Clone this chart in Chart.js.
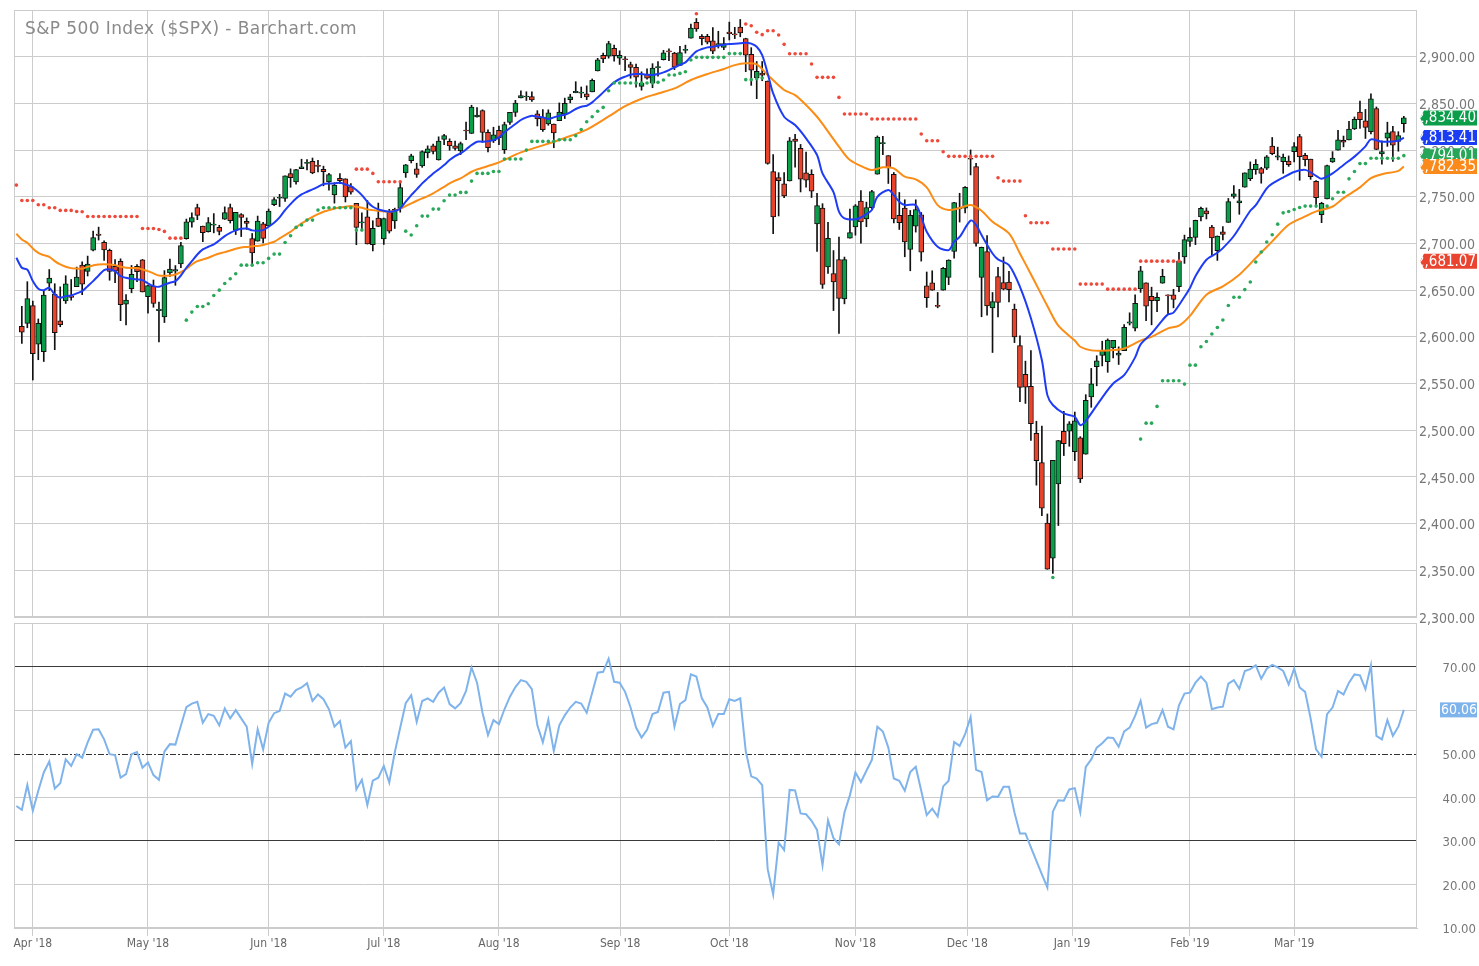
<!DOCTYPE html>
<html>
<head>
<meta charset="utf-8">
<script src="https://cdn.jsdelivr.net/npm/chart.js@4.4.1/dist/chart.umd.min.js"></script>
<style>
  html, body { margin: 0; padding: 0; background: #fff; }
  #wrap { position: relative; width: 1479px; height: 966px; overflow: hidden; }
  #price { position: absolute; left: 0; top: 0; }
  #rsi { position: absolute; left: 0; top: 620px; }
</style>
</head>
<body>
<div id="wrap">
  <canvas id="price" width="1479" height="632"></canvas>
  <canvas id="rsi" width="1479" height="346"></canvas>
</div>
<script>
// Data: S&P 500 daily bars, bar 0 = 27 Mar 2018 ... bar 253 = 29 Mar 2019

const monthTickBars = [3, 24, 46, 67, 88, 110.1, 130, 153, 173.4, 192.5, 214, 233];
const monthLabels = ["Apr '18", "May '18", "Jun '18", "Jul '18", "Aug '18", "Sep '18",
                     "Oct '18", "Nov '18", "Dec '18", "Jan '19", "Feb '19", "Mar '19"];

const opens = [null, 2611.30, 2614.41,
  2633.45,2592.17,2584.04,2657.36,2645.82,2617.18,2638.41,2643.83,2653.83,2676.90,2670.10,2692.74,2710.11,2701.16,2692.56,2675.40,2680.80,2634.92,2651.65,2675.47,2682.51,
  2642.96,2654.24,2628.08,2621.45,2668.50,2670.26,2678.12,2705.02,2722.70,2738.47,2718.59,2712.62,2719.71,2717.35,2726.00,2738.34,2713.98,2730.94,2723.60,2705.11,2702.43,2720.98,
  2718.70,2741.67,2748.46,2748.26,2774.84,2765.84,2780.18,2785.60,2787.94,2783.21,2779.30,2765.79,2752.01,2769.73,2769.28,2760.79,2742.94,2722.12,2728.45,2698.69,2727.13,
  2704.95,2733.27,2724.19,2737.68,2775.62,2788.56,2779.82,2783.14,2796.93,2804.55,2789.34,2811.35,2809.37,2804.55,2799.17,2820.68,2817.73,2835.49,2842.35,2819.00,2809.73,
  2821.17,2800.48,2829.62,2840.29,2855.92,2856.79,2857.19,2838.90,2835.46,2827.88,2827.95,2831.44,2838.32,2853.93,2861.51,2860.99,2860.29,2862.35,2884.69,2901.45,2900.62,2908.94,2898.37,
  2896.96,2891.59,2888.64,2868.26,2881.39,2871.57,2888.29,2896.85,2906.38,2903.83,2890.74,2906.60,2919.73,2936.76,2921.83,2921.75,2916.98,2911.65,2910.03,
  2926.29,2923.80,2931.69,2919.35,2902.54,2877.53,2882.51,2873.90,2776.87,2770.54,2763.83,2767.05,2811.67,2802.00,2775.66,2773.94,2721.03,2737.87,2674.88,2667.86,2682.65,2640.68,2705.60,
  2717.58,2745.45,2726.37,2738.40,2774.13,2806.83,2794.10,2773.93,2730.05,2737.90,2693.52,2718.54,2730.74,2654.60,2657.74,2633.36,2649.97,2663.75,2691.45,2736.97,2737.76,
  2790.50,2782.43,2663.51,2691.26,2630.86,2664.44,2658.23,2658.70,2629.68,2590.75,2559.90,2547.05,2496.77,2465.38,2400.56,2363.12,2442.50,2498.77,2498.94,
  2476.96,2491.92,2474.33,2535.61,2568.11,2580.00,2573.51,2588.11,2580.31,2585.10,2614.75,2609.28,2651.27,2657.88,2643.48,2638.84,2657.44,2644.97,2644.89,2653.62,2685.49,
  2702.32,2706.49,2728.34,2735.05,2717.53,2692.36,2712.40,2722.61,2750.30,2743.50,2760.24,2769.28,2779.05,2780.24,2780.67,2804.35,2792.36,2787.50,2788.11,
  2798.22,2814.37,2794.41,2790.27,2766.53,2730.79,2747.61,2787.34,2799.78,2810.38,2810.79,2822.61,2840.76,2831.34,2819.72,2844.52,2796.01,2812.66,2819.72,2809.40,2828.27];

const highs = [null, 2632.65, 2659.07,
  2638.30,2619.14,2649.86,2672.08,2656.88,2653.55,2665.45,2661.43,2674.72,2680.26,2686.49,2713.34,2717.49,2702.84,2693.94,2682.86,2683.55,2645.30,2676.48,2677.35,2682.87,
  2655.27,2660.87,2637.14,2670.93,2683.35,2676.34,2701.27,2726.11,2732.86,2742.10,2718.59,2727.76,2731.96,2719.50,2739.19,2742.24,2733.33,2731.97,2727.36,2710.67,2729.34,2722.50,
  2736.93,2749.16,2752.61,2772.39,2779.90,2779.39,2790.21,2789.80,2791.47,2789.06,2782.81,2774.99,2765.05,2774.86,2769.28,2764.17,2742.94,2732.91,2746.09,2724.34,2743.26,
  2727.26,2736.58,2737.83,2764.41,2784.65,2795.58,2785.91,2799.22,2804.53,2806.53,2814.19,2816.76,2812.05,2809.70,2808.61,2829.99,2848.03,2845.57,2843.17,2821.74,2824.46,
  2825.83,2829.91,2840.38,2853.29,2863.43,2862.44,2862.48,2842.20,2843.40,2843.11,2827.95,2850.49,2855.63,2859.76,2873.23,2867.54,2868.78,2876.16,2898.25,2903.77,2916.50,2912.46,2906.32,
  2900.18,2894.21,2892.05,2883.81,2886.93,2892.52,2894.65,2906.76,2908.30,2904.65,2911.17,2912.36,2934.80,2940.91,2923.79,2923.95,2931.15,2927.22,2920.53,
  2937.06,2931.42,2939.86,2919.78,2909.64,2894.83,2894.83,2874.02,2795.14,2775.77,2775.99,2813.46,2816.94,2806.04,2797.77,2778.94,2753.59,2742.59,2722.70,2692.38,2706.85,2685.43,2736.69,
  2741.67,2756.55,2744.27,2756.82,2815.15,2814.75,2794.10,2775.99,2754.60,2746.80,2735.38,2746.75,2733.16,2669.44,2670.73,2647.55,2674.35,2682.53,2744.00,2753.75,2760.88,
  2800.18,2785.93,2696.15,2708.54,2647.51,2674.35,2685.44,2670.19,2635.07,2601.13,2573.99,2585.29,2509.63,2504.41,2410.34,2467.76,2489.10,2520.27,2509.24,
  2519.49,2493.14,2538.07,2566.16,2579.82,2595.32,2597.82,2596.27,2589.32,2613.08,2625.76,2645.06,2675.47,2657.88,2653.19,2647.20,2672.38,2644.97,2650.93,2690.44,2708.95,
  2716.66,2724.99,2738.98,2738.08,2719.32,2708.07,2718.05,2748.19,2761.85,2757.90,2775.66,2787.33,2789.88,2781.58,2794.20,2813.49,2803.12,2795.76,2793.73,
  2808.02,2816.88,2796.44,2790.27,2767.25,2744.13,2784.00,2798.32,2821.24,2815.00,2830.73,2835.41,2852.42,2843.54,2860.31,2846.16,2809.79,2829.87,2825.56,2819.71,2836.03];

const lows = [null, 2593.06, 2609.72,
  2553.80,2575.49,2573.61,2649.58,2586.27,2610.79,2635.78,2639.25,2653.83,2645.05,2665.16,2692.05,2703.63,2681.90,2660.61,2657.99,2617.32,2612.67,2647.16,2659.01,2648.04,
  2625.41,2631.70,2594.62,2615.32,2664.70,2655.20,2674.14,2704.54,2717.45,2725.47,2701.91,2712.17,2711.36,2709.18,2725.70,2721.88,2709.54,2707.38,2714.99,2676.81,2702.43,2700.68,
  2718.70,2740.54,2739.51,2745.00,2760.16,2763.59,2780.17,2778.78,2774.65,2776.52,2761.73,2757.12,2743.19,2763.91,2744.39,2752.68,2698.67,2715.60,2699.38,2691.99,2718.03,
  2698.95,2711.16,2716.02,2733.52,2770.73,2786.24,2770.77,2781.53,2791.69,2795.84,2789.24,2805.89,2799.77,2800.01,2795.14,2811.12,2817.73,2835.26,2808.34,2798.11,2808.06,
  2805.85,2796.34,2827.37,2835.98,2855.92,2853.09,2851.98,2825.81,2819.88,2826.58,2802.49,2831.44,2833.73,2850.62,2861.32,2856.05,2854.03,2862.35,2884.69,2893.50,2898.40,2895.22,2891.73,
  2885.13,2876.92,2867.29,2864.12,2875.94,2866.78,2879.20,2896.39,2895.77,2886.16,2890.43,2903.82,2919.73,2927.11,2912.63,2913.70,2903.28,2909.27,2907.50,
  2917.91,2919.37,2921.36,2883.92,2869.29,2855.04,2874.27,2784.86,2710.51,2729.44,2749.03,2766.91,2781.81,2755.18,2760.27,2749.22,2691.43,2651.89,2667.84,2628.16,2603.54,2635.34,2705.60,
  2708.85,2700.44,2717.94,2737.08,2774.13,2794.99,2764.24,2722.00,2714.98,2685.75,2670.75,2712.16,2681.09,2631.52,2649.82,2631.09,2649.97,2655.89,2684.38,2722.94,2732.76,
  2773.38,2697.18,2621.53,2623.14,2583.23,2621.30,2650.26,2637.27,2593.84,2530.54,2528.71,2488.96,2441.18,2408.55,2351.10,2346.58,2397.94,2472.89,2482.82,
  2467.47,2443.96,2474.33,2524.56,2547.56,2568.89,2562.02,2577.40,2570.41,2585.10,2612.68,2606.36,2647.58,2617.27,2612.86,2627.01,2657.33,2624.06,2631.05,2648.34,2678.65,
  2696.88,2698.75,2724.03,2726.27,2687.26,2681.83,2703.79,2722.61,2748.63,2731.23,2760.24,2767.29,2774.06,2764.55,2779.11,2794.99,2789.47,2775.13,2782.51,
  2787.38,2767.66,2782.97,2768.69,2739.09,2722.27,2747.61,2786.73,2799.78,2803.46,2810.79,2821.99,2823.27,2812.43,2817.38,2800.47,2785.02,2803.99,2787.72,2798.77,2819.23];

const closes = [null, 2605.00, 2640.87,
  2581.88,2614.45,2644.69,2662.84,2604.47,2613.16,2656.87,2642.19,2663.99,2656.30,2677.84,2706.39,2708.64,2693.13,2670.14,2670.29,2634.56,2639.40,2666.94,2669.91,2648.05,
  2654.80,2635.67,2629.73,2663.42,2672.63,2671.92,2697.79,2723.07,2727.72,2730.13,2711.45,2722.46,2720.13,2712.97,2733.01,2724.44,2733.29,2727.76,2721.33,2689.86,2724.01,2705.27,
  2734.62,2746.87,2748.80,2772.35,2770.37,2779.03,2782.00,2786.85,2775.63,2782.49,2776.80,2773.75,2762.59,2767.32,2749.76,2754.88,2717.07,2723.06,2699.63,2716.31,2718.37,
  2726.71,2713.22,2736.61,2759.82,2784.17,2793.84,2774.02,2798.29,2801.31,2798.43,2809.55,2815.62,2804.49,2801.83,2806.98,2820.40,2846.07,2837.44,2818.82,2802.60,2816.29,
  2813.36,2827.22,2840.35,2850.40,2858.45,2857.70,2853.58,2833.28,2821.93,2839.96,2818.37,2840.69,2850.13,2857.05,2862.96,2861.82,2856.98,2874.69,2896.74,2897.52,2914.04,2901.13,2901.52,
  2896.72,2888.60,2878.05,2871.68,2877.13,2887.89,2888.92,2904.18,2904.98,2888.80,2904.31,2907.95,2930.75,2929.67,2919.37,2915.56,2905.97,2914.00,2913.98,
  2924.59,2923.43,2925.51,2901.61,2885.57,2884.43,2880.34,2785.68,2728.37,2767.13,2750.79,2809.92,2809.21,2768.78,2767.78,2755.88,2740.69,2656.10,2705.57,2658.69,2641.25,2682.63,2711.74,
  2740.37,2723.06,2738.31,2755.45,2813.89,2806.83,2781.01,2726.22,2722.18,2701.58,2730.20,2736.27,2690.73,2641.89,2649.93,2632.56,2673.45,2682.17,2743.79,2737.80,2760.17,
  2790.37,2700.06,2695.95,2633.08,2637.72,2636.78,2651.07,2650.54,2599.95,2545.94,2546.16,2506.96,2467.42,2416.62,2351.10,2467.70,2488.83,2485.74,2506.85,
  2510.03,2447.89,2531.94,2549.69,2574.41,2584.96,2596.64,2596.26,2582.61,2610.30,2616.10,2635.96,2670.71,2632.90,2638.70,2642.33,2664.76,2643.85,2640.00,2681.05,2704.10,
  2706.53,2724.87,2737.70,2731.61,2706.05,2707.88,2709.80,2744.73,2753.03,2745.73,2775.60,2779.76,2784.70,2774.88,2792.67,2796.11,2793.90,2792.38,2784.49,
  2803.69,2792.81,2789.65,2771.45,2748.93,2743.07,2783.30,2791.52,2810.92,2808.48,2822.48,2832.94,2832.57,2824.23,2854.88,2800.71,2798.36,2818.46,2805.37,2815.44,2834.40];

// fast moving average (blue), [bar, value]
const maFast = [[0,2684.7],[1,2674],[2,2672],[3,2659.7],[4,2651.5],[5,2650],[6,2652.5],[7,2645.4],[8,2641.8],[9,2643.6],[10,2644.3],[11,2646.5],[12,2649],[13,2654.3],[14,2659.7],[15,2665.7],[16,2671.5],[17,2672.2],[18,2670.4],[19,2665],[20,2663.2],[21,2662.2],[22,2661.5],[23,2660.8],[24,2657.2],[25,2654.3],[26,2653.6],[27,2656],[28,2658],[29,2659.7],[30,2665.7],[31,2674],[32,2681],[33,2688.2],[34,2693.6],[35,2696.5],[36,2699],[37,2703.2],[38,2707.9],[39,2711.4],[40,2714],[41,2715.7],[42,2716],[43,2714],[44,2713.6],[45,2714.3],[46,2717.9],[47,2722.2],[48,2727.9],[49,2735.7],[50,2742.2],[51,2748.2],[52,2752.5],[53,2755.4],[54,2757.9],[55,2760.7],[56,2763.6],[57,2764.3],[58,2764.3],[59,2765],[60,2763.2],[61,2761.4],[62,2757.2],[63,2751.8],[64,2744.7],[65,2739.3],[66,2736.5],[67,2735],[68,2734],[69,2734.7],[70,2737.5],[71,2744.7],[72,2751.8],[73,2757.9],[74,2764.3],[75,2769.7],[76,2775],[77,2779.3],[78,2783.9],[79,2789.3],[80,2793.6],[81,2796.4],[82,2800.7],[83,2805.4],[84,2808.9],[85,2809],[86,2809.5],[87,2810.7],[88,2813.6],[89,2819],[90,2823.6],[91,2827.9],[92,2832.2],[93,2835],[94,2836.8],[95,2835.7],[96,2835],[97,2833.2],[98,2835],[99,2836.8],[100,2837.9],[101,2840.4],[102,2844],[103,2846.4],[104,2847.5],[105,2851.1],[106,2856.4],[107,2861.8],[108,2867.2],[109,2872.5],[110,2876.1],[111,2878.6],[112,2880.7],[113,2881.4],[114,2881.4],[115,2880.7],[116,2880.4],[117,2881.4],[118,2883.2],[119,2885.7],[120,2888.6],[121,2891.4],[122,2893.9],[123,2900],[124,2905.7],[125,2908.2],[126,2910],[127,2910.7],[128,2911.8],[129,2912.9],[130,2913.6],[132,2914.3],[133,2915],[134,2914],[135,2910.7],[136,2901.8],[137,2882.1],[138,2860.7],[140,2835.7],[142,2826.8],[144,2812.5],[146,2794.7],[147,2775],[149,2755],[150,2734],[151,2726.9],[153,2725.8],[154,2727.9],[155,2731.5],[156,2735.8],[157,2750],[159,2757.2],[160,2751.8],[161,2744.7],[162,2741.1],[164,2741.1],[165,2728.6],[166,2712.6],[168,2696.5],[170,2692.9],[171,2701.9],[172,2707],[174,2724.5],[175,2720],[176,2709],[178,2689.3],[179,2683],[181,2676.8],[183,2653.6],[185,2620],[187,2575],[188,2537.6],[189,2527],[191,2518],[193,2514.4],[194,2505.5],[195,2510],[198,2535],[200,2550],[202,2559],[204,2578],[205,2592],[207,2603.7],[209,2618],[210,2624],[211,2626],[213,2643],[214,2652.4],[215,2665],[217,2682.6],[219,2690],[220,2695],[222,2708],[225,2735],[226,2741],[228,2759],[229,2764],[231,2770.6],[233,2776.5],[235,2778.8],[237,2772.5],[238,2769.2],[240,2775],[242,2784.1],[244,2793],[246,2804],[247,2811.5],[249,2809],[252,2810],[253,2813.41]];

// slow moving average (orange)
const maSlow = [[0,2710.4],[1,2704.3],[2,2700.7],[3,2694.7],[4,2690],[5,2687.5],[6,2685.7],[7,2681.1],[8,2677.5],[9,2675],[10,2673.6],[11,2673.2],[12,2672.9],[13,2675],[14,2676.5],[15,2677.5],[17,2677.5],[18,2676.8],[19,2675],[20,2674],[22,2673.6],[23,2672.2],[24,2670.4],[25,2667.9],[26,2665.7],[28,2665.7],[29,2666.8],[30,2669.3],[31,2672.9],[32,2677.5],[33,2681.1],[34,2682.9],[35,2684.7],[36,2687.2],[37,2689.3],[38,2690.7],[39,2692.5],[40,2694.3],[41,2695.7],[42,2696.3],[43,2697],[44,2697.4],[45,2698.3],[46,2700],[47,2701.8],[48,2705.4],[49,2709],[50,2712.5],[51,2717.2],[52,2721.5],[53,2725],[54,2728.6],[55,2731.5],[56,2734],[57,2735.7],[58,2737.5],[59,2738.6],[60,2739.3],[61,2740],[62,2739.3],[63,2738.2],[64,2736.5],[65,2735.7],[66,2735],[67,2734.3],[68,2734],[69,2735],[70,2737.5],[71,2740],[72,2742.9],[73,2745.7],[74,2748.2],[75,2750.7],[76,2753.6],[77,2757.2],[78,2760.7],[79,2764.3],[80,2767.2],[81,2769.7],[82,2773.2],[83,2776.8],[84,2779.3],[85,2781],[86,2782.9],[88,2786.8],[92,2797.5],[96,2805],[100,2813],[104,2822],[108,2836],[111,2847],[114,2855],[117,2860.5],[120,2866],[123,2875],[126,2881.4],[129,2886.8],[131,2891],[133,2892.9],[135,2891.8],[137,2880.4],[140,2864.3],[142,2858.9],[144,2848.2],[146,2835.7],[147,2828],[150,2803.6],[152,2789.3],[155,2780.4],[156,2778.6],[158,2781.5],[160,2780.4],[162,2771.5],[164,2768.6],[166,2760],[168,2741.1],[170,2735.8],[172,2738],[174,2741.1],[176,2735],[178,2723.2],[181,2710.7],[183,2689.3],[185,2667],[188,2633],[190,2612],[193,2596],[194,2589.4],[196,2585.5],[198,2585.1],[200,2585.8],[202,2587.5],[205,2596],[207,2600],[210,2609],[212,2612],[214,2622.5],[217,2645.2],[220,2654.1],[223,2666.6],[226,2684.4],[229,2702.2],[232,2720],[235,2728.9],[237,2734.3],[240,2739.6],[242,2748.5],[245,2760],[247,2769.9],[249,2774.2],[252,2777.7],[253,2782.35]];

// parabolic SAR dots, [bar, value]
const sarUp = [[31,2617.9],[32,2626.5],[33,2632.5],[34,2632.5],[35,2635.4],[36,2644.3],[37,2650],[38,2657.2],[39,2662.2],[40,2667.5],[41,2676.8],[42,2676.8],[43,2676.8],[44,2679.3],[45,2679.3],[46,2684],[47,2688.6],[48,2688.6],[49,2701.1],[50,2708.3],[51,2717.2],[52,2719.7],[53,2725],[54,2725],[55,2735.7],[56,2738.2],[57,2738.2],[58,2738.2],[59,2738.2],[60,2738.2],[61,2738.2],[62,2714.3],[63,2714.3],
  [71,2713.2],[72,2709],[73,2719],[74,2729.3],[75,2729.3],[76,2736.8],[77,2736.8],[78,2745.7],[79,2751.8],[80,2751.8],[81,2754.7],[82,2754.7],[83,2766.8],[84,2775],[85,2775],[86,2775],[87,2777],[88,2777],[89,2790.4],[90,2790.4],[91,2790.4],[92,2790.4],[93,2800],[94,2809.3],[95,2809.3],[96,2809.3],[97,2809.3],[98,2809.3],[99,2811],[100,2811],[101,2811],[102,2815.4],[103,2822],[104,2830.4],[105,2835.7],[106,2841.5],[107,2845.7],[108,2863.6],[109,2871.8],[110,2871.8],[111,2871.8],[112,2871.8],[113,2871.8],[114,2871.8],[115,2871.8],[116,2871.8],[117,2872.5],[118,2875],[119,2880.4],[120,2880.4],[121,2882.1],[122,2883.9],[123,2896.4],[124,2899.3],[125,2899.3],[126,2899.3],[127,2899.3],[128,2899.3],[129,2899.3],[130,2903.3],[131,2903.3],[132,2903.3],[133,2875.4],[134,2875.4],[135,2876.4],[136,2877.2],
  [189,2342.3],
  [205,2490.5],[206,2507.6],[207,2507.6],[208,2525.5],[209,2553],[210,2553],[211,2553],[212,2553],[213,2549.4],[214,2569.7],[215,2569.7],[216,2589.4],[217,2595],[218,2603],[219,2610],[220,2618],[221,2633.5],[222,2642.4],[223,2642.4],[224,2650.6],[225,2658.8],[226,2680.1],[227,2690.8],[228,2701.5],[229,2709.3],[230,2720.7],[231,2732.8],[232,2734.3],[233,2736.4],[234,2738.5],[235,2740],[236,2740],[237,2740],[238,2740],[239,2740],[240,2747.8],[241,2754.9],[242,2754.9],[243,2769.2],[244,2777],[245,2785.5],[246,2785.5],[247,2791.2],[248,2791.2],[249,2791.2],[250,2791.2],[251,2791.2],[252,2791.2],[253,2794.01]];

const sarDown = [[0,2762.5],[1,2746],[2,2746],[3,2746],[4,2741.4],[5,2741.4],[6,2738.2],[7,2738.2],[8,2735.4],[9,2735.4],[10,2735.4],[11,2734.3],[12,2733.9],[13,2728.9],[14,2728.9],[15,2728.9],[16,2728.9],[17,2728.9],[18,2728.9],[19,2728.9],[20,2728.9],[21,2728.9],[22,2728.9],[23,2716.1],[24,2716.1],[25,2716.1],[26,2715],[27,2712.9],[28,2705.7],[29,2705.7],[30,2705.7],
  [62,2779.6],[63,2779.6],[64,2779.6],[65,2775],[66,2766.1],[67,2766.1],[68,2766.1],[69,2766.1],[70,2766.1],
  [124,2946],
  [133,2935],[134,2933.2],[135,2926.1],[136,2923.6],[137,2927.8],[138,2927.8],[139,2923.2],[140,2913.2],[141,2903.2],[142,2903.2],[143,2903.2],[144,2903.2],[145,2892.1],[146,2877.9],[147,2877.9],[148,2877.9],[149,2877.9],[150,2856.4],[151,2838.6],[152,2838.6],[153,2838.6],[154,2838.6],[155,2838.6],[156,2833.2],[157,2833.2],[158,2833.2],[159,2833.2],[160,2833.2],[161,2833.2],[162,2833.2],[163,2833.2],[164,2833.2],[165,2817.2],[166,2810],[167,2810],[168,2810],[169,2798.2],[170,2793.3],[171,2793.3],[172,2793.3],[173,2793.3],[174,2793.3],[175,2793.3],[176,2793.3],[177,2793.3],[178,2793.3],[179,2770.4],[180,2766.8],[181,2766.8],[182,2766.8],[183,2766.8],[184,2729.7],[185,2722.2],[186,2722.2],[187,2722.2],[188,2722.2],[189,2694],[190,2694],[191,2694],[192,2694],[193,2694],[194,2656.5],[195,2656.5],[196,2656.5],[197,2656.5],[198,2656.5],[199,2651.1],[200,2651.1],[201,2651.1],[202,2651.1],[203,2651.1],[204,2651.1],[205,2681.07],[206,2681.07],[207,2681.07],[208,2681.07],[209,2681.07],[210,2681.07],[211,2681.07],[212,2681.07]];

// RSI, one value per bar
const rsi = [38.0,37.1,42.8,36.9,41.5,45.7,48.2,42.0,43.2,48.7,47.2,49.9,49.1,52.6,55.5,55.6,53.3,49.9,49.7,44.5,
  45.3,49.9,50.4,46.8,48.0,45.1,44.0,50.5,52.2,52.1,56.4,60.7,61.5,61.9,57.1,59.1,58.7,56.5,60.4,58.1,
  60.0,58.1,56.2,47.6,55.6,51.0,57.1,59.3,59.8,63.8,63.1,64.6,65.2,66.2,62.1,63.6,62.5,60.2,56.2,57.5,
  51.4,52.9,41.8,44.0,38.2,43.8,44.5,47.2,43.4,50.3,56.0,61.6,63.4,57.3,62.1,62.7,61.9,64.0,65.2,61.4,
  60.4,61.6,64.4,69.8,66.3,59.4,54.3,57.7,56.8,60.2,63.1,65.3,66.9,66.5,64.8,56.5,52.6,57.8,50.6,56.5,
  58.8,60.6,61.9,61.5,59.4,64.0,68.6,68.8,71.8,66.5,66.3,64.2,60.6,56.0,53.7,55.5,59.1,59.6,64.0,64.2,
  56.2,61.4,62.3,68.2,67.7,62.7,60.6,56.4,59.1,59.1,62.5,62.1,62.7,50.6,44.8,44.3,42.8,23.5,17.7,29.6,
  27.9,41.7,41.6,36.3,36.1,34.6,32.5,24.4,34.7,30.6,29.2,36.5,40.5,45.7,43.5,46.1,48.6,56.2,55.1,51.4,
  44.3,43.8,41.5,45.8,47.0,41.5,35.9,37.4,35.6,42.5,43.8,52.7,51.8,54.5,58.4,46.3,45.8,39.3,40.2,40.1,
  42.4,42.4,36.5,31.7,31.7,28.5,25.4,22.3,19.3,36.7,39.3,39.2,41.8,42.1,36.6,47.0,48.7,51.4,52.4,53.7,
  53.6,51.6,55.1,56.0,58.7,62.1,56.0,56.8,57.1,60.0,56.2,55.6,61.1,63.8,64.0,66.3,67.7,66.3,60.2,60.6,
  60.8,66.1,66.9,64.9,69.0,69.4,70.3,67.2,69.5,70.4,69.8,69.0,65.9,69.5,65.2,64.2,58.1,51.0,49.3,59.1,
  60.6,64.4,63.6,66.3,68.2,68.0,64.8,70.3,54.1,53.3,57.7,54.1,56.2,60.06];

// last values shown in the right-hand tags
const priceTags = [2834.40, 2813.41, 2794.01, 2782.35, 2681.07];
const rsiTag = 60.06;

// Styles
const GREEN = '#0b9d4a', RED = '#e9432b';
const tagColors = ['#0b9d4a', '#1a3cf2', '#27a65a', '#fb8a1c', '#e8442f'];
const GRID = '#cccccc';
const X_MIN = -0.43, X_MAX = 255.4;
const FAMILY = "'DejaVu Sans Condensed', 'DejaVu Sans'";

// Helpers
const fmt = v => {
    const [a, b] = v.toFixed(2).split('.');
    return a.replace(/\B(?=(\d{3})+(?!\d))/g, ',') + '.' + b;
};
const toPoints = pairs => pairs.map(p => ({x: p[0], y: p[1]}));
const monthTicks = axis => { axis.ticks = monthTickBars.map(v => ({value: v})); };
const fixWidth = s => { s.width = 59; s.paddingTop = 0; s.paddingBottom = 0; };

let bodies = [];
let wicks = [];
let bodyColors = [];
opens.forEach((o, i) => {
    if (o === null) return;
    bodies.push({x: i, y: [o, closes[i]]});
    wicks.push({x: i, y: [lows[i], highs[i]]});
    bodyColors.push(closes[i] >= o ? GREEN : RED);
});

// Plugins
const framePlugin = {
    id: 'frame',
    beforeDatasetsDraw(chart) {
        const {ctx, chartArea: a} = chart;
        ctx.save();
        ctx.strokeStyle = GRID;
        ctx.lineWidth = 1;
        ctx.strokeRect(Math.round(a.left) + 0.5, Math.round(a.top) + 0.5,
                       Math.round(a.right - a.left) - 1, Math.round(a.bottom - a.top) - 1);
        ctx.restore();
    }
};

const drawTag = (ctx, y, text, color, left, right, h, font) => {
    ctx.save();
    ctx.beginPath();
    ctx.moveTo(left - 4, y);
    ctx.lineTo(left, y - h / 2);
    ctx.lineTo(right, y - h / 2);
    ctx.lineTo(right, y + h / 2);
    ctx.lineTo(left, y + h / 2);
    ctx.closePath();
    ctx.fillStyle = color;
    ctx.fill();
    ctx.clip();
    ctx.fillStyle = '#ffffff';
    ctx.font = font;
    ctx.textAlign = 'right';
    ctx.textBaseline = 'middle';
    ctx.fillText(text, right - 1, y + 0.5);
    ctx.restore();
};

const priceDecor = {
    id: 'priceDecor',
    afterDraw(chart) {
        const {ctx} = chart;
        ctx.save();
        ctx.font = "17px 'DejaVu Sans'";
        ctx.letterSpacing = '0.4px';
        ctx.fillStyle = '#8a8a8a';
        ctx.textBaseline = 'alphabetic';
        ctx.fillText('S&P 500 Index ($SPX) - Barchart.com', 25, 34);
        ctx.restore();
        const y = chart.scales.y;
        priceTags.forEach((v, i) => {
            drawTag(ctx, y.getPixelForValue(v), fmt(v), tagColors[i], 1424, 1477, 15, "15px " + FAMILY);
        });
    }
};

const rsiDecor = {
    id: 'rsiDecor',
    beforeDatasetsDraw(chart) {
        const {ctx, chartArea: a} = chart;
        const y = Math.round(chart.scales.y.getPixelForValue(50)) + 0.5;
        ctx.save();
        ctx.strokeStyle = '#333333';
        ctx.lineWidth = 1;
        ctx.setLineDash([6, 2, 2, 2]);
        ctx.beginPath();
        ctx.moveTo(a.left, y);
        ctx.lineTo(a.right, y);
        ctx.stroke();
        ctx.restore();
    },
    afterDraw(chart) {
        const {ctx} = chart;
        const y = chart.scales.y.getPixelForValue(rsiTag);
        ctx.save();
        ctx.fillStyle = '#7fb3ec';
        ctx.fillRect(1440, y - 7.5, 37, 15);
        ctx.beginPath();
        ctx.rect(1440, y - 7.5, 37, 15);
        ctx.clip();
        ctx.fillStyle = '#ffffff';
        ctx.font = "14px " + FAMILY;
        ctx.textAlign = 'right';
        ctx.textBaseline = 'middle';
        ctx.fillText(rsiTag.toFixed(2), 1477, y + 0.5);
        ctx.restore();
    }
};

// Price chart
new Chart(document.getElementById('price'), {
    type: 'bar',
    data: {
        datasets: [
            {type: 'line', data: toPoints(sarUp), showLine: false, pointRadius: 1.8, pointBorderWidth: 0,
             pointBackgroundColor: '#2aa85a', order: 1},
            {type: 'line', data: toPoints(sarDown), showLine: false, pointRadius: 1.8, pointBorderWidth: 0,
             pointBackgroundColor: '#ee4a3c', order: 1},
            {type: 'line', data: toPoints(maFast), borderColor: '#1f3cf5', borderWidth: 2, pointRadius: 0,
             tension: 0.3, order: 2},
            {type: 'line', data: toPoints(maSlow), borderColor: '#fb8c15', borderWidth: 2, pointRadius: 0,
             tension: 0.3, order: 3},
            {type: 'bar', data: bodies, backgroundColor: bodyColors, borderColor: '#111111', borderWidth: 1,
             borderSkipped: false, barThickness: 5, minBarLength: 1, grouped: false, order: 4},
            {type: 'bar', data: wicks, backgroundColor: '#111111', borderWidth: 0, barThickness: 1,
             grouped: false, order: 5}
        ]
    },
    options: {
        responsive: false,
        animation: false,
        events: [],
        layout: {padding: {left: 14, top: 10, right: 3, bottom: 15}},
        plugins: {legend: {display: false}, tooltip: {enabled: false}},
        scales: {
            x: {
                type: 'linear', min: X_MIN, max: X_MAX, offset: false,
                afterBuildTicks: monthTicks,
                afterFit: s => { s.height = 0; },
                ticks: {display: false},
                grid: {color: GRID, drawTicks: false, offset: false},
                border: {display: false}
            },
            y: {
                position: 'right', min: 2300, max: 2950,
                afterFit: fixWidth,
                ticks: {stepSize: 50, padding: 2, labelOffset: 2, color: '#777777', font: {family: FAMILY, size: 14},
                        callback: v => v >= 2950 ? '' : fmt(v)},
                grid: {color: GRID, drawTicks: false},
                border: {display: false}
            }
        }
    },
    plugins: [framePlugin, priceDecor]
});

// RSI chart
new Chart(document.getElementById('rsi'), {
    type: 'line',
    data: {
        datasets: [{
            data: rsi.map((v, i) => ({x: i, y: v})),
            borderColor: '#7fb3ec', borderWidth: 2, pointRadius: 0, tension: 0
        }]
    },
    options: {
        responsive: false,
        animation: false,
        events: [],
        layout: {padding: {left: 14, top: 3, right: 3, bottom: 0}},
        plugins: {legend: {display: false}, tooltip: {enabled: false}},
        scales: {
            x: {
                type: 'linear', min: X_MIN, max: X_MAX, offset: false,
                afterBuildTicks: monthTicks,
                afterFit: s => { s.height = 38; },
                ticks: {autoSkip: false, maxRotation: 0, padding: 1, color: '#666666',
                        font: {family: FAMILY, size: 12},
                        callback: (v, i) => monthLabels[i]},
                grid: {color: GRID, tickLength: 8},
                border: {color: GRID}
            },
            y: {
                position: 'right', min: 10, max: 80,
                afterFit: fixWidth,
                ticks: {stepSize: 10, padding: 23, labelOffset: 2, crossAlign: 'far', color: '#777777',
                        font: {family: FAMILY, size: 13},
                        callback: v => v >= 80 ? '' : v.toFixed(2)},
                grid: {
                    drawTicks: false,
                    color: c => (c.tick.value === 30 || c.tick.value === 70) ? '#3a3a3a'
                               : (c.tick.value === 50 ? 'rgba(0,0,0,0)' : GRID)
                },
                border: {display: false}
            }
        }
    },
    plugins: [framePlugin, rsiDecor]
});
</script>
</body>
</html>
